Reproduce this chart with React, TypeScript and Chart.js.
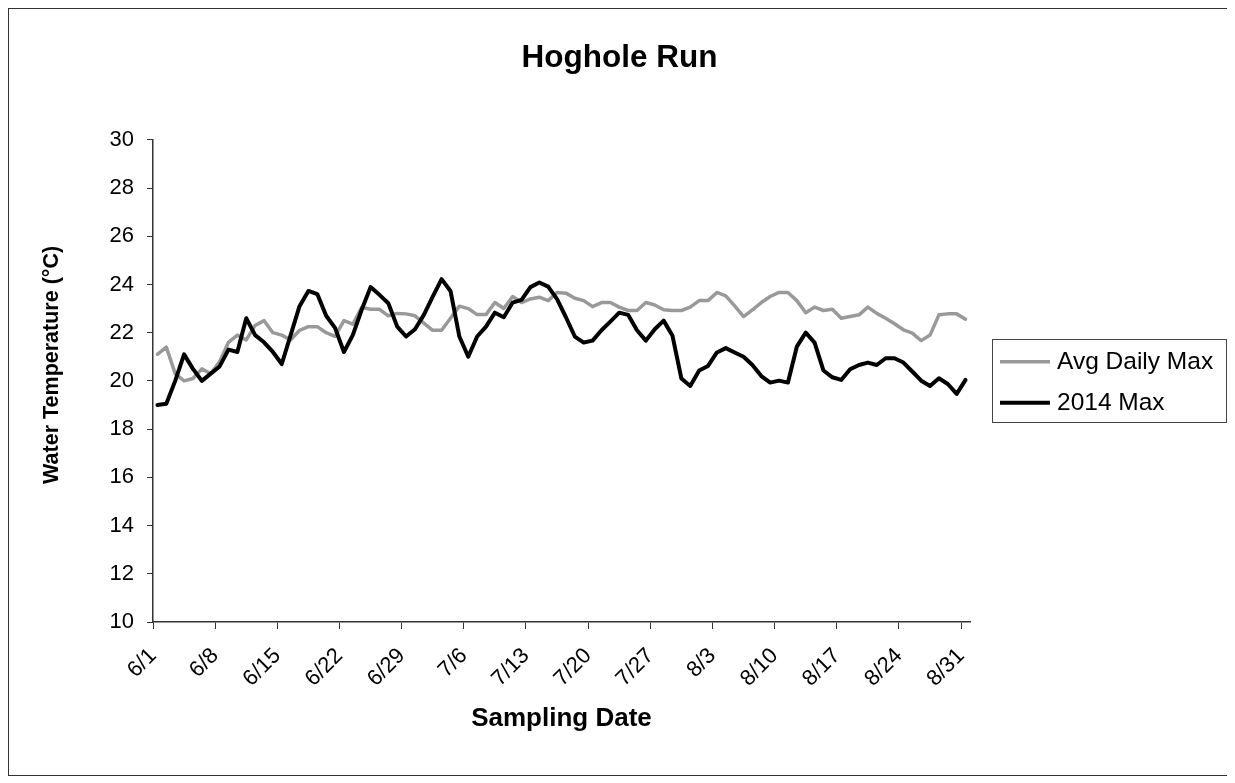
import { useEffect, useRef } from 'react';
import { Chart, registerables } from 'chart.js';

Chart.register(...registerables);

// Axis ticks: one every week from June 1 (day 0) to August 31 (day 91)
const tickDays = [0, 7, 14, 21, 28, 35, 42, 49, 56, 63, 70, 77, 84, 91];
const tickLabels = ['6/1', '6/8', '6/15', '6/22', '6/29', '7/6', '7/13', '7/20', '7/27', '8/3', '8/10', '8/17', '8/24', '8/31'];

// Daily maximum water temperature (°C), June 1 – August 31
const avgDailyMax = [
  21.1, 21.4, 20.3, 20.0, 20.1, 20.5, 20.3, 20.8, 21.6, 21.9,
  21.7, 22.3, 22.5, 22.0, 21.9, 21.7, 22.1, 22.25, 22.25, 22.0,
  21.85, 22.5, 22.35, 23.05, 22.97, 22.97, 22.7, 22.8, 22.78, 22.7,
  22.4, 22.1, 22.1, 22.6, 23.1, 23.0, 22.75, 22.75, 23.25, 23.0,
  23.5, 23.25, 23.4, 23.47, 23.33, 23.67, 23.64, 23.43, 23.33, 23.08,
  23.25, 23.25, 23.06, 22.92, 22.92, 23.25, 23.15, 22.95, 22.92, 22.92,
  23.06, 23.33, 23.33, 23.67, 23.53, 23.11, 22.67, 22.95, 23.25, 23.5,
  23.67, 23.67, 23.33, 22.83, 23.06, 22.92, 22.97, 22.6, 22.67, 22.74,
  23.06, 22.8, 22.6, 22.37, 22.12, 21.98, 21.67, 21.9, 22.74, 22.78,
  22.78, 22.56,
];

const max2014 = [
  19.0, 19.05, 20.0, 21.1, 20.5, 20.0, 20.3, 20.6, 21.3, 21.2,
  22.6, 21.9, 21.6, 21.2, 20.7, 21.9, 23.1, 23.73, 23.6, 22.7,
  22.2, 21.2, 21.9, 22.95, 23.89, 23.57, 23.22, 22.25, 21.84, 22.14,
  22.74, 23.5, 24.22, 23.73, 21.84, 21.0, 21.84, 22.25, 22.83, 22.64,
  23.25, 23.36, 23.89, 24.08, 23.91, 23.39, 22.64, 21.84, 21.59, 21.67,
  22.1, 22.46, 22.83, 22.74, 22.1, 21.67, 22.14, 22.5, 21.87, 20.1,
  19.79, 20.43, 20.62, 21.18, 21.36, 21.18, 21.0, 20.66, 20.2, 19.93,
  20.01, 19.93, 21.42, 22.0, 21.59, 20.43, 20.15, 20.04, 20.48, 20.66,
  20.76, 20.66, 20.94, 20.94, 20.76, 20.39, 20.01, 19.79, 20.11, 19.87,
  19.46, 20.04,
];

const seriesNames = ['Avg Daily Max', '2014 Max'];
const seriesColors = ['#999999', '#000000'];
const seriesWidths = [3.5, 4];
const yAxisTitle = 'Water Temperature (°C)';

const FONT = "'Liberation Sans', Arial, sans-serif";

// Each day's value sits in the middle of its one-day slot on the date axis
const toPoints = (values: number[]) => values.map((v, i) => ({ x: i + 0.5, y: v }));

// Boxed legend on the right of the plot, plus the vertical axis title
const chartExtras = {
  id: 'chartExtras',
  afterDraw(chart: any) {
    const { ctx, chartArea } = chart;
    ctx.save();

    // vertical axis title, set a little above the plot's middle
    ctx.save();
    ctx.translate(43, (chartArea.top + chartArea.bottom) / 2 - 16);
    ctx.rotate(-Math.PI / 2);
    ctx.font = `bold 21.5px ${FONT}`;
    ctx.fillStyle = '#000';
    ctx.textAlign = 'center';
    ctx.textBaseline = 'middle';
    ctx.fillText(yAxisTitle, 0, 0);
    ctx.restore();

    const left = 983;
    const top = 330;
    const width = 234;
    const height = 83;
    ctx.strokeStyle = '#444';
    ctx.lineWidth = 1;
    ctx.strokeRect(left + 0.5, top + 0.5, width, height);
    ctx.font = `24.5px ${FONT}`;
    ctx.textBaseline = 'middle';
    ctx.textAlign = 'left';
    seriesNames.forEach((name, i) => {
      const y = top + 22.7 + i * 41;
      ctx.strokeStyle = seriesColors[i];
      ctx.lineWidth = seriesWidths[i];
      ctx.beginPath();
      ctx.moveTo(left + 8, y);
      ctx.lineTo(left + 58, y);
      ctx.stroke();
      ctx.fillStyle = '#000';
      ctx.fillText(name, left + 65, y + 1);
    });
    ctx.restore();
  },
};

export default function App() {
  const canvasRef = useRef<HTMLCanvasElement | null>(null);

  useEffect(() => {
    if (!canvasRef.current) return;
    const chart = new Chart(canvasRef.current, {
      type: 'line',
      data: {
        datasets: [
          {
            label: seriesNames[0],
            data: toPoints(avgDailyMax),
            borderColor: seriesColors[0],
            backgroundColor: seriesColors[0],
            borderWidth: seriesWidths[0],
            pointRadius: 0,
            borderJoinStyle: 'round',
            borderCapStyle: 'round',
            tension: 0,
            order: 1,
          },
          {
            label: seriesNames[1],
            data: toPoints(max2014),
            borderColor: seriesColors[1],
            backgroundColor: seriesColors[1],
            borderWidth: seriesWidths[1],
            pointRadius: 0,
            borderJoinStyle: 'round',
            borderCapStyle: 'round',
            tension: 0,
            order: 0,
          },
        ],
      },
      options: {
        responsive: false,
        animation: false,
        layout: { padding: 0 },
        plugins: {
          legend: { display: false },
          tooltip: { enabled: false },
          title: {
            display: true,
            text: 'Hoghole Run',
            color: '#000',
            font: { family: FONT, size: 31.5, weight: 'bold' },
            padding: { top: 30, bottom: 63 },
          },
        },
        scales: {
          x: {
            type: 'linear',
            min: 0,
            max: 92,
            afterBuildTicks: (scale: any) => {
              scale.ticks = tickDays.map((d) => ({ value: d }));
            },
            afterFit: (scale: any) => {
              scale.height = 153;
            },
            ticks: {
              autoSkip: false,
              minRotation: 45,
              maxRotation: 45,
              padding: 14,
              color: '#000',
              font: { family: FONT, size: 22 },
              callback: (value: any) => {
                const idx = tickDays.indexOf(Number(value));
                return idx >= 0 ? tickLabels[idx] : '';
              },
            },
            grid: { drawOnChartArea: false, tickLength: 7, color: '#333', lineWidth: 1 },
            border: { color: '#333', width: 1.5 },
            title: {
              display: true,
              text: 'Sampling Date',
              color: '#000',
              font: { family: FONT, size: 26, weight: 'bold' },
              padding: { top: 0, bottom: 41 },
            },
          },
          y: {
            min: 10,
            max: 30,
            afterFit: (scale: any) => {
              scale.width = 144;
            },
            ticks: {
              stepSize: 2,
              padding: 13,
              color: '#000',
              font: { family: FONT, size: 22 },
            },
            grid: { drawOnChartArea: false, tickLength: 6, color: '#333', lineWidth: 1 },
            border: { color: '#333', width: 1.5 },
            title: { display: false },
          },
          // empty strip on the right that holds the legend box
          legendSpace: {
            type: 'linear',
            position: 'right',
            display: true,
            afterFit: (scale: any) => {
              scale.width = 260;
            },
            ticks: { display: false },
            grid: { display: false },
            border: { display: false },
          },
        },
      },
      plugins: [chartExtras],
    } as any);
    return () => chart.destroy();
  }, []);

  return (
    <div style={{ width: 1221, height: 766, border: '1px solid #333' }}>
      <canvas ref={canvasRef} width={1221} height={766} style={{ display: 'block' }} />
    </div>
  );
}
